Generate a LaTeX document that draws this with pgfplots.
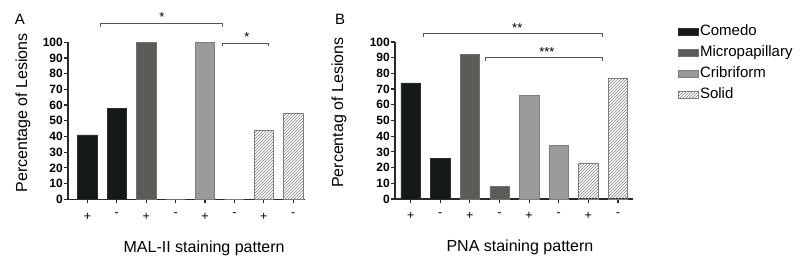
\documentclass[border=0pt]{standalone}
\usepackage{pgfplots}
\pgfplotsset{compat=1.18}
\usetikzlibrary{patterns}
\usepackage{fontspec}
\setmainfont{Liberation Sans}
\definecolor{comedo}{HTML}{161A16}
\definecolor{micro}{HTML}{5B5B58}
\definecolor{crib}{HTML}{9B9B9B}
\definecolor{border}{HTML}{707070}
\definecolor{axcol}{HTML}{2A2A2A}
\definecolor{brk}{HTML}{555555}
\pgfplotsset{
  panel/.style={
    scale only axis, height=157pt, anchor=south west,
    axis x line*=bottom, axis y line*=left,
    ymin=0, ymax=100,
    ytick={0,10,...,100}, xtick={0,...,7},
    xticklabels={{+},{-},{+},{-},{+},{-},{+},{-}},
    tick align=outside, major tick length=4pt,
    axis line style={line width=1.4pt, axcol},
    tick style={line width=1.2pt, axcol},
    /pgf/number format/assume math mode=true,
    yticklabel style={font=\fontsize{12}{12}\selectfont\bfseries, inner sep=1pt},
    xticklabel style={font=\fontsize{12.5}{12.5}\selectfont, yshift=-6pt},
    ybar, bar width=19.4pt,
    clip=false,
    ylabel style={font=\fontsize{16}{16}\selectfont, anchor=center},
  },
  comedo/.style={fill=comedo, draw=comedo!80!gray, line width=0.6pt, bar shift=0pt},
  micro/.style={fill=micro, draw=border, line width=0.6pt, bar shift=0pt},
  crib/.style={fill=crib, draw=border!90, line width=0.6pt, bar shift=0pt},
  solid/.style={pattern=north east lines, pattern color=gray, draw=border!90, line width=0.6pt, bar shift=0pt},
}
\begin{document}
\begin{tikzpicture}
\useasboundingbox (0pt,0pt) rectangle (800pt,262pt);
\node[font=\fontsize{15}{15}\selectfont] at (20pt,243pt) {A};
\node[font=\fontsize{15}{15}\selectfont] at (340pt,243pt) {B};
% Panel A
\begin{axis}[panel, at={(68pt,62.7pt)}, width=237pt, xmin=-0.66, xmax=7.4,
  ylabel={Percentage of Lesions},
  ylabel style={at={(axis description cs:-0.19,0.55)}}]
\addplot[comedo] coordinates {(0,41) (1,58)};
\addplot[micro] coordinates {(2,100) (3,0)};
\addplot[crib] coordinates {(4,100) (5,0)};
\addplot[solid] coordinates {(6,44) (7,55)};
\draw[brk, line width=0.9pt] (axis cs:0.43,110) -- (axis cs:0.43,112) -- (axis cs:4.6,112) -- (axis cs:4.6,110);
\node[anchor=base, font=\fontsize{13}{13}\selectfont, inner sep=0pt] at (axis cs:2.53,113) {*};
\draw[brk, line width=0.9pt] (axis cs:4.6,97.4) -- (axis cs:4.6,99.4) -- (axis cs:6.17,99.4) -- (axis cs:6.17,97.4);
\node[anchor=base, font=\fontsize{13}{13}\selectfont, inner sep=0pt] at (axis cs:5.42,100.4) {*};
\node[font=\fontsize{16}{16}\selectfont] at (axis cs:3.97,-31) {MAL-II staining pattern};
\end{axis}
% Panel B
\begin{axis}[panel, at={(395pt,63pt)}, width=238pt, xmin=-0.53, xmax=7.51,
  ylabel={Percentag of Lesions},
  ylabel style={at={(axis description cs:-0.235,0.55)}},
  legend style={at={(axis description cs:1.19,1.115)}, anchor=north west, draw=none, fill=none,
    font=\fontsize{15}{15}\selectfont, inner sep=0pt, row sep=5.5pt,
    nodes={inner sep=1pt, text height=10.5pt, text depth=3pt}},
  legend cell align=left,
  legend image code/.code={\draw[#1] (0pt,-3.5pt) rectangle (20pt,3.5pt);}]
\addplot[comedo] coordinates {(0,74) (1,26)};
\addlegendentry{Comedo}
\addplot[micro] coordinates {(2,92) (3,8)};
\addlegendentry{Micropapillary}
\addplot[crib] coordinates {(4,66) (5,34)};
\addlegendentry{Cribriform}
\addplot[solid] coordinates {(6,23) (7,77)};
\addlegendentry{Solid}
\draw[brk, line width=0.9pt] (axis cs:0.43,103.3) -- (axis cs:0.43,105.3) -- (axis cs:6.49,105.3) -- (axis cs:6.49,103.3);
\node[anchor=base, font=\fontsize{13}{13}\selectfont, inner sep=0pt] at (axis cs:3.6,106.3) {**};
\draw[brk, line width=0.9pt] (axis cs:2.54,88) -- (axis cs:2.54,90) -- (axis cs:6.49,90) -- (axis cs:6.49,88);
\node[anchor=base, font=\fontsize{13}{13}\selectfont, inner sep=0pt] at (axis cs:4.6,91) {***};
\node[font=\fontsize{16}{16}\selectfont] at (axis cs:3.69,-31) {PNA staining pattern};
\end{axis}
\end{tikzpicture}
\end{document}
